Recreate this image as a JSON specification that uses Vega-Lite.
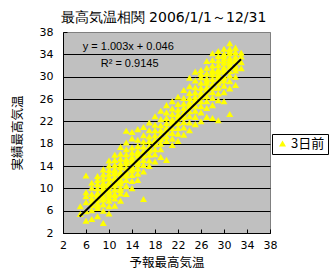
{
  "$schema": "https://vega.github.io/schema/vega-lite/v6.json",
  "width": 207,
  "height": 201,
  "autosize": {"type": "none"},
  "padding": {"left": 63, "top": 32, "right": 61, "bottom": 45},
  "background": "white",
  "title": {
    "text": "最高気温相関  2006/1/1～12/31",
    "font": "DejaVu Sans",
    "fontSize": 14,
    "fontWeight": "normal",
    "color": "black",
    "anchor": "middle",
    "dx": -3,
    "offset": 1
  },
  "datasets": {
    "obs": [
      {"f":5,"a":5.4},{"f":5,"a":6.8},
      {"f":6,"a":4.2},{"f":6,"a":5.9},{"f":6,"a":7.5},{"f":6,"a":8.6},{"f":6,"a":9.3},{"f":6,"a":12.3},
      {"f":7,"a":4.5},{"f":7,"a":6.1},{"f":7,"a":7.0},{"f":7,"a":8.2},{"f":7,"a":9.0},{"f":7,"a":10.1},{"f":7,"a":7.6},{"f":7,"a":11.0},
      {"f":8,"a":5.0},{"f":8,"a":6.5},{"f":8,"a":7.3},{"f":8,"a":7.9},{"f":8,"a":8.5},{"f":8,"a":9.2},{"f":8,"a":10.0},{"f":8,"a":10.8},{"f":8,"a":11.5},{"f":8,"a":12.2},{"f":8,"a":8.8},{"f":8,"a":6.9},
      {"f":9,"a":3.8},{"f":9,"a":6.0},{"f":9,"a":7.1},{"f":9,"a":8.0},{"f":9,"a":8.7},{"f":9,"a":9.4},{"f":9,"a":10.2},{"f":9,"a":11.0},{"f":9,"a":11.7},{"f":9,"a":12.5},{"f":9,"a":13.4},{"f":9,"a":9.8},{"f":9,"a":8.3},{"f":9,"a":10.6},
      {"f":10,"a":5.5},{"f":10,"a":6.8},{"f":10,"a":7.8},{"f":10,"a":8.9},{"f":10,"a":9.6},{"f":10,"a":10.3},{"f":10,"a":11.1},{"f":10,"a":11.8},{"f":10,"a":12.6},{"f":10,"a":13.3},{"f":10,"a":14.1},{"f":10,"a":10.7},{"f":10,"a":9.2},{"f":10,"a":12.0},{"f":10,"a":8.4},{"f":10,"a":15.0},
      {"f":11,"a":6.9},{"f":11,"a":8.2},{"f":11,"a":9.0},{"f":11,"a":9.8},{"f":11,"a":10.5},{"f":11,"a":11.2},{"f":11,"a":12.0},{"f":11,"a":12.7},{"f":11,"a":13.4},{"f":11,"a":14.2},{"f":11,"a":15.1},{"f":11,"a":16.0},{"f":11,"a":10.9},{"f":11,"a":11.6},{"f":11,"a":13.0},{"f":11,"a":8.8},
      {"f":12,"a":7.8},{"f":12,"a":9.1},{"f":12,"a":10.1},{"f":12,"a":10.9},{"f":12,"a":11.6},{"f":12,"a":12.3},{"f":12,"a":13.0},{"f":12,"a":13.8},{"f":12,"a":14.5},{"f":12,"a":15.3},{"f":12,"a":16.2},{"f":12,"a":17.4},{"f":12,"a":12.7},{"f":12,"a":11.3},{"f":12,"a":14.0},{"f":12,"a":9.7},
      {"f":13,"a":9.0},{"f":13,"a":10.4},{"f":13,"a":11.5},{"f":13,"a":12.3},{"f":13,"a":13.0},{"f":13,"a":13.7},{"f":13,"a":14.5},{"f":13,"a":15.3},{"f":13,"a":16.1},{"f":13,"a":17.0},{"f":13,"a":18.2},{"f":13,"a":20.3},{"f":13,"a":12.8},{"f":13,"a":14.9},
      {"f":14,"a":10.0},{"f":14,"a":11.3},{"f":14,"a":12.4},{"f":14,"a":13.2},{"f":14,"a":14.0},{"f":14,"a":14.8},{"f":14,"a":15.6},{"f":14,"a":16.4},{"f":14,"a":17.3},{"f":14,"a":18.95},{"f":14,"a":13.6},{"f":14,"a":15.2},{"f":14,"a":20.1},
      {"f":15,"a":11.5},{"f":15,"a":12.6},{"f":15,"a":13.5},{"f":15,"a":14.3},{"f":15,"a":15.1},{"f":15,"a":15.9},{"f":15,"a":16.7},{"f":15,"a":17.6},{"f":15,"a":18.7},{"f":15,"a":20.6},{"f":15,"a":14.7},{"f":15,"a":16.3},
      {"f":16,"a":8.1},{"f":16,"a":13.0},{"f":16,"a":14.2},{"f":16,"a":15.1},{"f":16,"a":15.9},{"f":16,"a":16.7},{"f":16,"a":17.5},{"f":16,"a":18.4},{"f":16,"a":19.5},{"f":16,"a":21.0},{"f":16,"a":16.2},
      {"f":17,"a":14.0},{"f":17,"a":15.0},{"f":17,"a":16.0},{"f":17,"a":16.8},{"f":17,"a":17.6},{"f":17,"a":18.5},{"f":17,"a":19.3},{"f":17,"a":20.4},{"f":17,"a":21.8},{"f":17,"a":17.2},
      {"f":18,"a":14.8},{"f":18,"a":16.1},{"f":18,"a":17.0},{"f":18,"a":17.9},{"f":18,"a":18.7},{"f":18,"a":19.5},{"f":18,"a":20.4},{"f":18,"a":21.4},{"f":18,"a":22.9},{"f":18,"a":18.3},
      {"f":19,"a":15.6},{"f":19,"a":17.0},{"f":19,"a":18.0},{"f":19,"a":18.8},{"f":19,"a":19.6},{"f":19,"a":20.4},{"f":19,"a":21.3},{"f":19,"a":22.4},{"f":19,"a":23.9},{"f":19,"a":19.2},
      {"f":20,"a":15.1},{"f":20,"a":18.5},{"f":20,"a":19.3},{"f":20,"a":20.1},{"f":20,"a":20.9},{"f":20,"a":21.7},{"f":20,"a":22.6},{"f":20,"a":23.6},{"f":20,"a":24.9},{"f":20,"a":20.5},
      {"f":21,"a":17.75},{"f":21,"a":18.9},{"f":21,"a":19.9},{"f":21,"a":20.8},{"f":21,"a":21.6},{"f":21,"a":22.4},{"f":21,"a":23.3},{"f":21,"a":24.3},{"f":21,"a":25.6},{"f":21,"a":22.0},
      {"f":22,"a":18.5},{"f":22,"a":19.8},{"f":22,"a":20.8},{"f":22,"a":21.7},{"f":22,"a":22.5},{"f":22,"a":23.3},{"f":22,"a":24.1},{"f":22,"a":25.1},{"f":22,"a":26.4},{"f":22,"a":22.9},
      {"f":23,"a":19.6},{"f":23,"a":20.9},{"f":23,"a":21.9},{"f":23,"a":22.8},{"f":23,"a":23.6},{"f":23,"a":24.4},{"f":23,"a":25.2},{"f":23,"a":26.2},{"f":23,"a":27.6},{"f":23,"a":23.1},
      {"f":24,"a":20.4},{"f":24,"a":21.8},{"f":24,"a":22.9},{"f":24,"a":23.8},{"f":24,"a":24.6},{"f":24,"a":25.4},{"f":24,"a":26.2},{"f":24,"a":27.1},{"f":24,"a":28.3},{"f":24,"a":29.8},{"f":24,"a":24.9},
      {"f":25,"a":21.5},{"f":25,"a":22.8},{"f":25,"a":23.9},{"f":25,"a":24.8},{"f":25,"a":25.6},{"f":25,"a":26.4},{"f":25,"a":27.2},{"f":25,"a":28.1},{"f":25,"a":29.3},{"f":25,"a":30.9},{"f":25,"a":25.9},
      {"f":26,"a":22.0},{"f":26,"a":23.6},{"f":26,"a":24.7},{"f":26,"a":25.6},{"f":26,"a":26.4},{"f":26,"a":27.2},{"f":26,"a":28.0},{"f":26,"a":28.9},{"f":26,"a":29.9},{"f":26,"a":31.2},{"f":26,"a":26.8},{"f":26,"a":30.5},
      {"f":27,"a":22.8},{"f":27,"a":24.4},{"f":27,"a":25.6},{"f":27,"a":26.5},{"f":27,"a":27.3},{"f":27,"a":28.1},{"f":27,"a":28.9},{"f":27,"a":29.7},{"f":27,"a":30.6},{"f":27,"a":31.6},{"f":27,"a":32.8},{"f":27,"a":27.7},{"f":27,"a":29.3},
      {"f":28,"a":22.6},{"f":28,"a":24.9},{"f":28,"a":26.2},{"f":28,"a":27.2},{"f":28,"a":28.0},{"f":28,"a":28.8},{"f":28,"a":29.6},{"f":28,"a":30.4},{"f":28,"a":31.2},{"f":28,"a":32.0},{"f":28,"a":33.0},{"f":28,"a":34.2},{"f":28,"a":28.4},{"f":28,"a":30.9},
      {"f":29,"a":22.2},{"f":29,"a":25.8},{"f":29,"a":27.0},{"f":29,"a":28.0},{"f":29,"a":28.9},{"f":29,"a":29.7},{"f":29,"a":30.5},{"f":29,"a":31.3},{"f":29,"a":32.1},{"f":29,"a":32.9},{"f":29,"a":33.7},{"f":29,"a":34.6},{"f":29,"a":29.3},{"f":29,"a":31.0},{"f":29,"a":30.1},
      {"f":30,"a":25.6},{"f":30,"a":27.2},{"f":30,"a":28.4},{"f":30,"a":29.3},{"f":30,"a":30.1},{"f":30,"a":30.9},{"f":30,"a":31.7},{"f":30,"a":32.5},{"f":30,"a":33.3},{"f":30,"a":34.1},{"f":30,"a":35.0},{"f":30,"a":29.8},{"f":30,"a":31.4},{"f":30,"a":32.9},{"f":30,"a":33.8},
      {"f":31,"a":23.3},{"f":31,"a":27.9},{"f":31,"a":29.2},{"f":31,"a":30.2},{"f":31,"a":31.0},{"f":31,"a":31.8},{"f":31,"a":32.6},{"f":31,"a":33.4},{"f":31,"a":34.2},{"f":31,"a":35.0},{"f":31,"a":36.0},{"f":31,"a":32.2},{"f":31,"a":33.0},{"f":31,"a":34.6},
      {"f":32,"a":28.5},{"f":32,"a":30.0},{"f":32,"a":31.1},{"f":32,"a":32.0},{"f":32,"a":32.8},{"f":32,"a":33.6},{"f":32,"a":34.4},{"f":32,"a":35.2},{"f":32,"a":33.1},{"f":32,"a":31.6},
      {"f":33,"a":31.5},{"f":33,"a":32.6},{"f":33,"a":33.6},{"f":33,"a":34.3}
    ],
    "fit": [{"f":4.9,"a":4.96},{"f":32.96,"a":33.11}],
    "notes": [
      {"t":"y = 1.003x + 0.046","f":5.43,"a":35.37},
      {"t":"R² = 0.9145","f":8.56,"a":32.27}
    ]
  },
  "layer": [
    {
      "data": {"name": "obs"},
      "mark": {"type": "point", "shape": "triangle-up", "filled": true, "size": 49, "opacity": 1, "strokeWidth": 0},
      "encoding": {
        "x": {"field": "f", "type": "quantitative", "scale": {"domain": [2, 38], "nice": false, "zero": false}, "title": "予報最高気温",
              "axis": {"values": [2,6,10,14,18,22,26,30,34,38], "tickCount": 20, "grid": false, "labelOverlap": false, "labelFlush": false, "labelBound": false}},
        "y": {"field": "a", "type": "quantitative", "scale": {"domain": [2, 38], "nice": false, "zero": false}, "title": "実績最高気温",
              "axis": {"values": [2,6,10,14,18,22,26,30,34,38], "tickCount": 20, "grid": true, "labelOverlap": false, "labelFlush": false, "labelBound": false,
                       "gridColor": {"condition": {"test": "datum.value == 38", "value": "#808080"}, "value": "black"}}},
        "color": {"datum": "3日前", "type": "nominal", "scale": {"range": ["#FFFF00"]}, "legend": {"title": null}}
      }
    },
    {
      "data": {"name": "fit"},
      "mark": {"type": "line", "color": "black", "strokeWidth": 2},
      "encoding": {
        "x": {"field": "f", "type": "quantitative"},
        "y": {"field": "a", "type": "quantitative"}
      }
    },
    {
      "data": {"name": "notes"},
      "mark": {"type": "text", "align": "left", "baseline": "middle", "font": "Liberation Sans", "fontSize": 11, "color": "black"},
      "encoding": {
        "x": {"field": "f", "type": "quantitative"},
        "y": {"field": "a", "type": "quantitative"},
        "text": {"field": "t"}
      }
    }
  ],
  "config": {
    "view": {"fill": "#C0C0C0", "stroke": "#808080", "strokeWidth": 1},
    "axis": {
      "domainColor": "black",
      "domainWidth": 1,
      "tickColor": "black",
      "tickSize": -4,
      "labelFont": "DejaVu Sans",
      "labelFontSize": 11,
      "labelColor": "black",
      "titleFont": "Noto Sans CJK JP",
      "titleFontSize": 12.5,
      "titleFontWeight": "normal",
      "titleColor": "black",
      "gridWidth": 1
    },
    "axisX": {"labelPadding": 10, "labelDx": -2, "titlePadding": 6},
    "axisY": {"labelPadding": 14, "titlePadding": 15},
    "legend": {
      "orient": "none",
      "legendX": 209,
      "legendY": 102,
      "fillColor": "white",
      "strokeColor": "black",
      "padding": 3,
      "cornerRadius": 0,
      "symbolType": "triangle-up",
      "symbolSize": 49,
      "symbolStrokeWidth": 0,
      "symbolOffset": 1,
      "labelOffset": 2,
      "labelFont": "Noto Sans CJK JP",
      "labelFontSize": 13,
      "labelColor": "black"
    }
  }
}
